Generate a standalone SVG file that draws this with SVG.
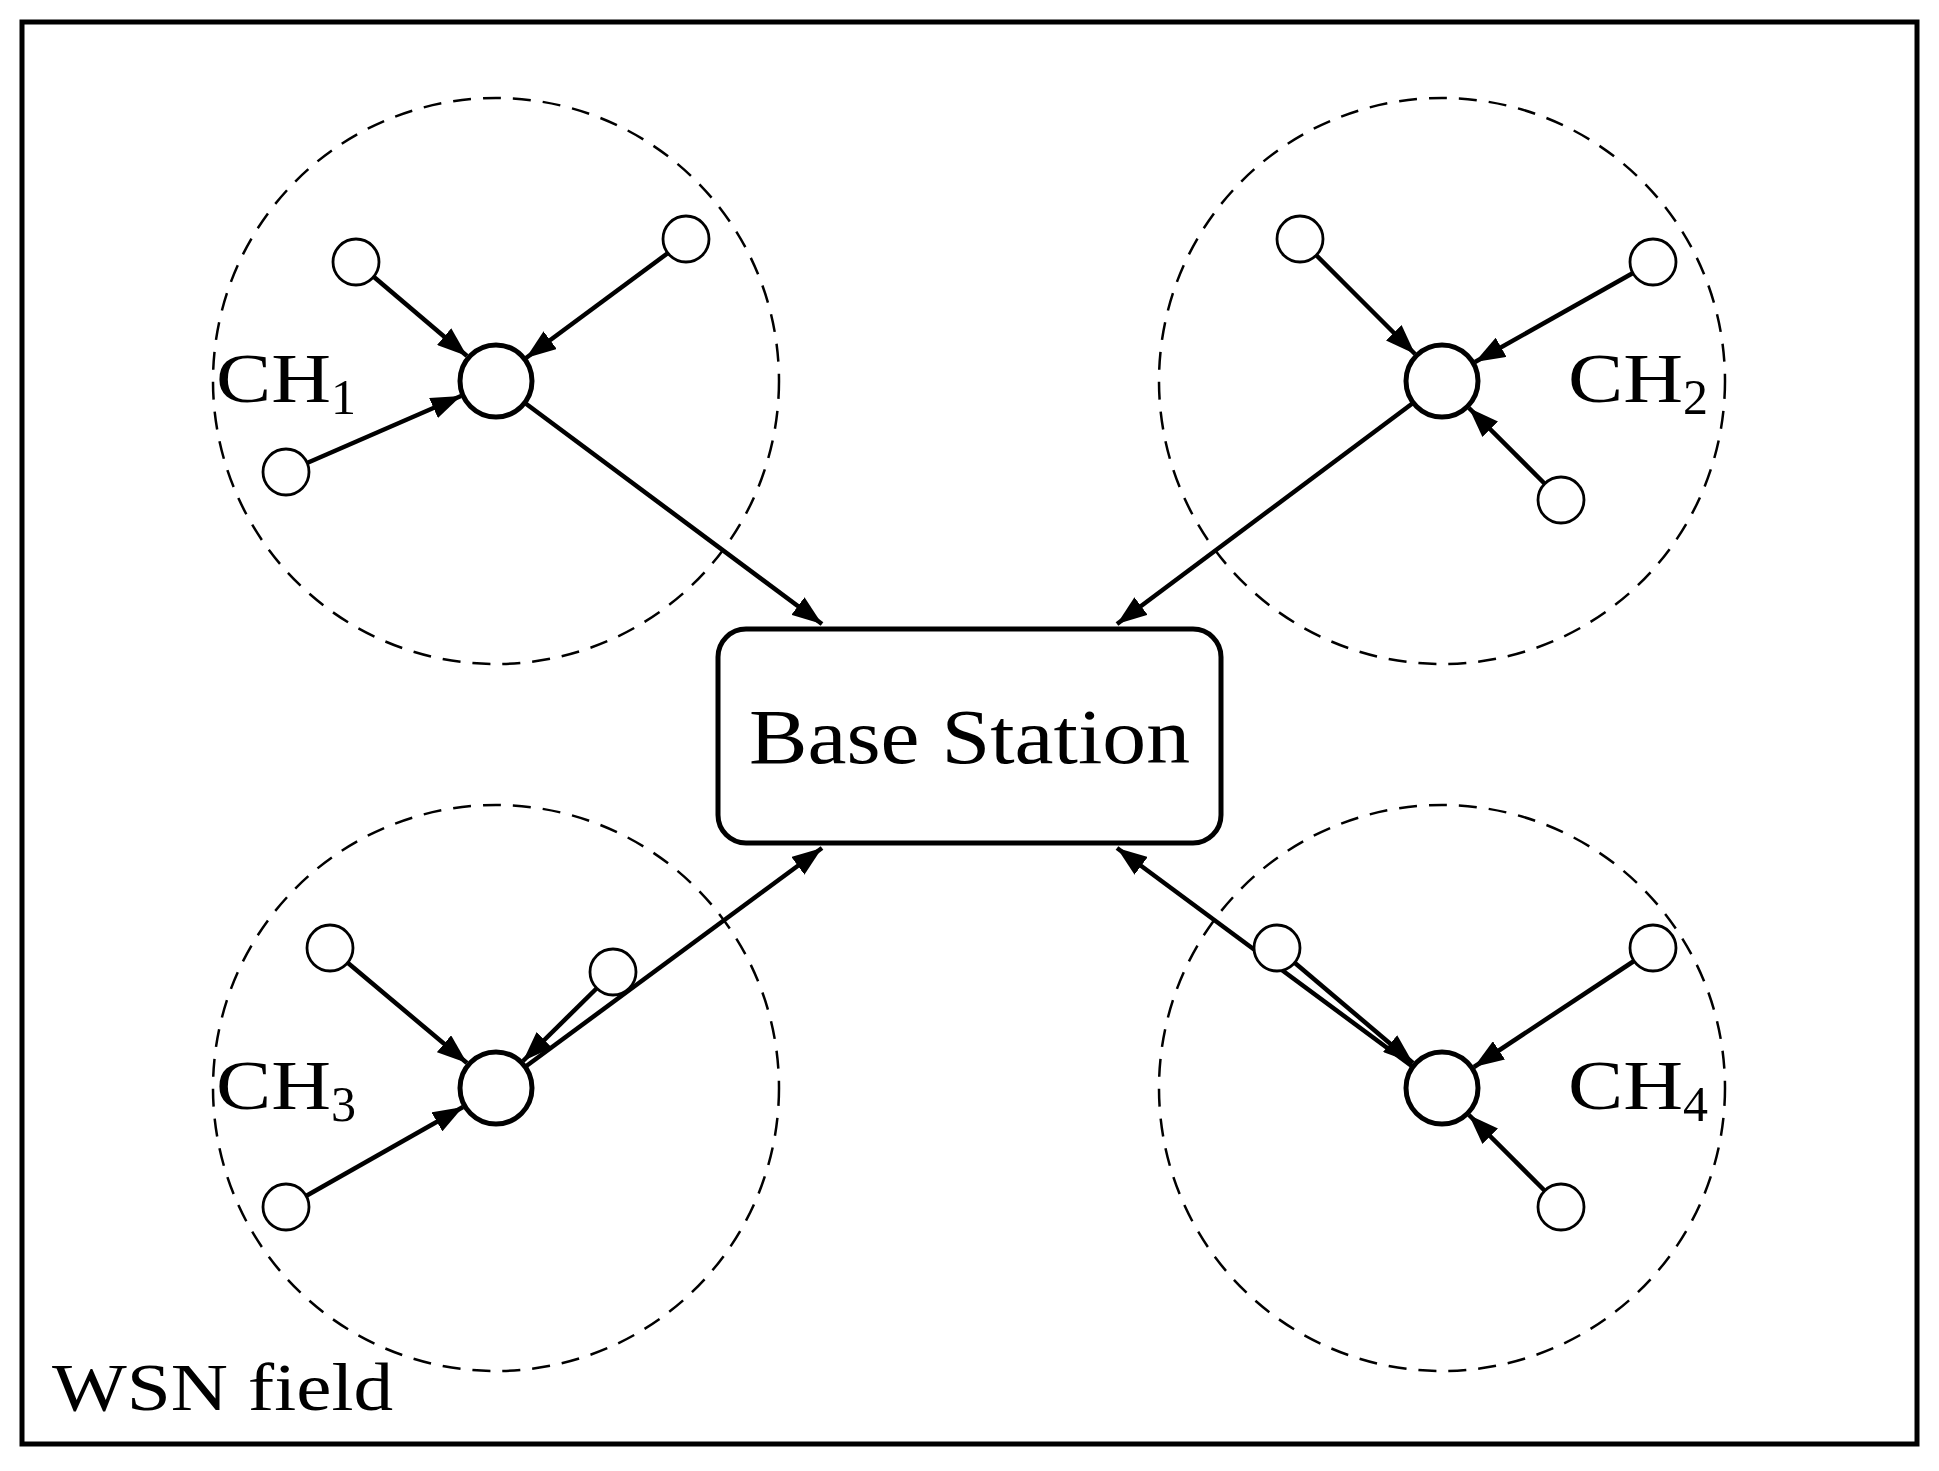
<svg xmlns="http://www.w3.org/2000/svg" width="1939" height="1471" viewBox="0 0 1939 1471">
<style>
.zone{fill:none;stroke:#000;stroke-width:2.5;stroke-dasharray:18 12}
.ch{fill:#fff;stroke:#000;stroke-width:5}
.sn{fill:#fff;stroke:#000;stroke-width:2.8}
.t{font-family:"Liberation Serif",serif;fill:#000}
#edges line{stroke:#000;stroke-width:4.5;marker-end:url(#ah)}
</style>
<defs><marker id="ah" markerUnits="userSpaceOnUse" markerWidth="32" markerHeight="22" refX="30" refY="11" orient="auto"><path d="M0,0 L30,11 L0,22 Z" fill="#000"/></marker></defs>
<rect x="0" y="0" width="1939" height="1471" fill="#fff"/>
<rect x="22" y="22" width="1895" height="1422" fill="none" stroke="#000" stroke-width="5"/>
<g id="zones">
<circle class="zone" cx="496" cy="381" r="283"/>
<circle class="zone" cx="1442" cy="381" r="283"/>
<circle class="zone" cx="496" cy="1088" r="283"/>
<circle class="zone" cx="1442" cy="1088" r="283"/>
</g>
<g id="edges">
<line x1="374" y1="277" x2="467" y2="356"/>
<line x1="668" y1="253" x2="526" y2="358"/>
<line x1="307" y1="463" x2="461" y2="396"/>
<line x1="525" y1="403" x2="822" y2="624"/>
<line x1="1316" y1="255" x2="1415" y2="354"/>
<line x1="1633" y1="273" x2="1475" y2="362"/>
<line x1="1545" y1="484" x2="1469" y2="408"/>
<line x1="1413" y1="403" x2="1117" y2="624"/>
<line x1="348" y1="963" x2="467" y2="1063"/>
<line x1="597" y1="988" x2="523" y2="1061"/>
<line x1="306" y1="1196" x2="463" y2="1107"/>
<line x1="525" y1="1067" x2="822" y2="848"/>
<line x1="1295" y1="963" x2="1413" y2="1063"/>
<line x1="1634" y1="961" x2="1474" y2="1067"/>
<line x1="1545" y1="1191" x2="1469" y2="1115"/>
<line x1="1413" y1="1067" x2="1117" y2="848"/>
</g>
<g id="ch1"><circle class="ch" cx="496" cy="381" r="36"/><text class="t" x="216" y="402" font-size="70"><tspan textLength="115" lengthAdjust="spacingAndGlyphs">CH</tspan><tspan font-size="50" dy="12">1</tspan></text></g>
<g id="ch2"><circle class="ch" cx="1442" cy="381" r="36"/><text class="t" x="1568" y="402" font-size="70"><tspan textLength="115" lengthAdjust="spacingAndGlyphs">CH</tspan><tspan font-size="50" dy="12">2</tspan></text></g>
<g id="ch3"><circle class="ch" cx="496" cy="1088" r="36"/><text class="t" x="216" y="1109" font-size="70"><tspan textLength="115" lengthAdjust="spacingAndGlyphs">CH</tspan><tspan font-size="50" dy="12">3</tspan></text></g>
<g id="ch4"><circle class="ch" cx="1442" cy="1088" r="36"/><text class="t" x="1568" y="1109" font-size="70"><tspan textLength="115" lengthAdjust="spacingAndGlyphs">CH</tspan><tspan font-size="50" dy="12">4</tspan></text></g>
<g id="n1a"><circle class="sn" cx="356" cy="262" r="23"/></g>
<g id="n1b"><circle class="sn" cx="686" cy="239" r="23"/></g>
<g id="n1c"><circle class="sn" cx="286" cy="472" r="23"/></g>
<g id="n2a"><circle class="sn" cx="1300" cy="239" r="23"/></g>
<g id="n2b"><circle class="sn" cx="1653" cy="262" r="23"/></g>
<g id="n2c"><circle class="sn" cx="1561" cy="500" r="23"/></g>
<g id="n3a"><circle class="sn" cx="330" cy="948" r="23"/></g>
<g id="n3b"><circle class="sn" cx="613" cy="972" r="23"/></g>
<g id="n3c"><circle class="sn" cx="286" cy="1207" r="23"/></g>
<g id="n4a"><circle class="sn" cx="1277" cy="948" r="23"/></g>
<g id="n4b"><circle class="sn" cx="1653" cy="948" r="23"/></g>
<g id="n4c"><circle class="sn" cx="1561" cy="1207" r="23"/></g>
<g id="bs"><rect x="718" y="629" width="503" height="214" rx="28" fill="#fff" stroke="#000" stroke-width="5"/><text class="t" x="749" y="763" font-size="78" textLength="441" lengthAdjust="spacingAndGlyphs">Base Station</text></g>
<text class="t" x="52" y="1410" font-size="68" textLength="341" lengthAdjust="spacingAndGlyphs">WSN field</text>
</svg>
